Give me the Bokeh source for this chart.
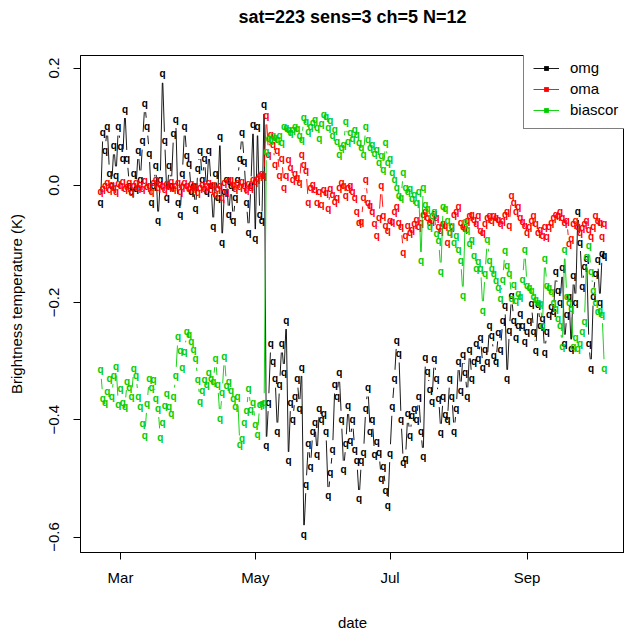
import math
import numpy as np
import pandas as pd
from bokeh.plotting import figure
from bokeh.models import (ColumnDataSource, Range1d, FixedTicker, Legend, LegendItem,
                          CustomJSTickFormatter, Title)
from bokeh.core.properties import value
from bokeh.embed import file_html
from bokeh.resources import INLINE

title_text = "sat=223 sens=3 ch=5 N=12"
x_label = "date"
y_label = "Brightness temperature (K)"
start_date = "2011-02-20"
series_names = ["omg", "oma", "biascor"]
series_colors = ["#000000", "#FF0000", "#00CD00"]
x_tick_dates = ["2011-03-01", "2011-05-01", "2011-07-01", "2011-09-01"]
x_tick_labels = ["Mar", "May", "Jul", "Sep"]
y_ticks = [-0.6, -0.4, -0.2, 0.0, 0.2]

omg = [
    -0.030, 0.090, 0.060, 0.100, 0.020, 0.000, 0.068, 0.017, 0.100, 0.066,
    0.046, 0.130, 0.045, 0.000, -0.010, 0.020, -0.005, 0.060, 0.010, 0.076,
    0.140, 0.100, 0.055, -0.030, 0.000, 0.033, -0.060, 0.010, 0.190, 0.076,
    -0.020, 0.033, 0.000, 0.088, 0.113, -0.030, -0.050, 0.020, 0.100, 0.050,
    0.038, -0.010, 0.000, -0.040, 0.028, 0.060, 0.010, 0.046, -0.010, 0.060,
    0.000, -0.070, 0.020, -0.020, 0.083, -0.097, -0.010, 0.010, -0.050, 0.000,
    -0.060, -0.020, 0.010, 0.046, 0.090, 0.040, -0.030, -0.080, 0.000, 0.103,
    -0.090, 0.100, -0.050, -0.060, 0.137, -0.444, -0.370, -0.270, -0.300, -0.330,
    -0.420, -0.340, -0.270, -0.320, -0.230, -0.470, -0.370, -0.400, -0.360, -0.330,
    -0.380, -0.310, -0.595, -0.510, -0.440, -0.480, -0.420, -0.405, -0.460, -0.380,
    -0.400, -0.390, -0.420, -0.530, -0.490, -0.450, -0.340, -0.360, -0.320, -0.400,
    -0.485, -0.440, -0.375, -0.436, -0.400, -0.450, -0.470, -0.535, -0.470, -0.456,
    -0.380, -0.345, -0.420, -0.400, -0.460, -0.437, -0.456, -0.500, -0.480, -0.520,
    -0.547, -0.457, -0.378, -0.330, -0.264, -0.287, -0.400, -0.473, -0.466, -0.390,
    -0.427, -0.393, -0.380, -0.400, -0.360, -0.420, -0.463, -0.294, -0.317, -0.349,
    -0.368, -0.296, -0.330, -0.363, -0.422, -0.361, -0.391, -0.400, -0.330, -0.360,
    -0.420, -0.380, -0.300, -0.350, -0.288, -0.320, -0.360, -0.280, -0.330, -0.300,
    -0.270, -0.295, -0.260, -0.310, -0.280, -0.300, -0.240, -0.256, -0.290, -0.300,
    -0.251, -0.280, -0.230, -0.205, -0.330, -0.247, -0.188, -0.230, -0.260, -0.240,
    -0.218, -0.240, -0.266, -0.249, -0.230, -0.202, -0.250, -0.281, -0.203, -0.240,
    -0.227, -0.285, -0.250, -0.220, -0.207, -0.215, -0.147, -0.180, -0.200, -0.141,
    -0.270, -0.220, -0.190, -0.278, -0.154, -0.200, -0.044, -0.097, -0.173, -0.139,
    -0.125, -0.270, -0.312, -0.190, -0.150, -0.127, -0.200, -0.117, -0.119,
]

oma = [
    -0.010, -0.005, 0.000, 0.005, -0.008, 0.002, -0.004, -0.010, 0.003, 0.000,
    0.006, -0.006, -0.002, 0.004, -0.012, 0.000, 0.005, -0.003, 0.002, -0.006,
    0.008, -0.002, 0.000, -0.010, 0.004, 0.010, -0.004, 0.002, 0.000, -0.008,
    0.003, -0.002, 0.006, -0.005, 0.000, 0.004, -0.010, -0.002, 0.005, 0.000,
    -0.006, 0.003, -0.004, 0.000, -0.012, -0.003, 0.002, -0.006, 0.000, 0.004,
    -0.008, 0.002, -0.015, -0.005, 0.000, -0.020, 0.005, -0.010, 0.008, 0.010,
    0.002, -0.006, 0.004, -0.002, 0.006, 0.000, -0.008, 0.003, -0.004, 0.010,
    0.006, 0.012, 0.017, 0.020, 0.017, 0.119, 0.053, 0.086, 0.070, 0.036,
    0.060, 0.016, 0.046, -0.003, 0.016, 0.044, 0.030, 0.010, 0.020, 0.013,
    0.005, 0.053, 0.035, 0.026, -0.030, -0.003, 0.002, -0.007, -0.029, -0.010,
    -0.032, -0.007, -0.012, -0.040, -0.005, -0.015, -0.027, -0.020, -0.003, 0.005,
    0.000, -0.018, -0.003, 0.000, -0.010, -0.020, -0.044, -0.063, -0.061, -0.021,
    0.010, -0.029, -0.035, -0.045, -0.065, -0.086, -0.055, 0.000, -0.052, -0.069,
    -0.077, -0.060, -0.061, -0.045, -0.037, -0.063, -0.070, -0.114, -0.086, -0.069,
    -0.080, -0.075, -0.065, -0.058, -0.070, -0.063, -0.050, -0.044, -0.055, -0.063,
    -0.060, -0.048, -0.055, -0.071, -0.077, -0.065, -0.069, -0.097, -0.080, -0.070,
    -0.050, -0.045, -0.037, -0.063, -0.070, -0.074, -0.060, -0.052, -0.050, -0.058,
    -0.066, -0.052, -0.077, -0.080, -0.065, -0.055, -0.052, -0.060, -0.052, -0.055,
    -0.058, -0.065, -0.060, -0.050, -0.045, -0.069, -0.018, -0.030, -0.045, -0.037,
    -0.055, -0.062, -0.069, -0.080, -0.070, -0.060, -0.052, -0.065, -0.080, -0.075,
    -0.086, -0.070, -0.088, -0.070, -0.063, -0.055, -0.050, -0.052, -0.044, -0.055,
    -0.063, -0.060, -0.100, -0.090, -0.065, -0.060, -0.070, -0.080, -0.072, -0.065,
    -0.060, -0.075, -0.088, -0.070, -0.052, -0.060, -0.063, -0.088, -0.065,
]

biascor = [
    -0.315, -0.363, -0.370, -0.351, -0.330, -0.360, -0.324, -0.309, -0.374, -0.347,
    -0.371, -0.377, -0.334, -0.345, -0.360, -0.312, -0.324, -0.361, -0.377, -0.407,
    -0.427, -0.373, -0.329, -0.345, -0.332, -0.364, -0.380, -0.430, -0.405, -0.376,
    -0.356, -0.378, -0.390, -0.360, -0.325, -0.258, -0.281, -0.311, -0.283, -0.250,
    -0.255, -0.266, -0.280, -0.296, -0.332, -0.368, -0.350, -0.332, -0.340, -0.319,
    -0.330, -0.335, -0.295, -0.339, -0.397, -0.353, -0.292, -0.341, -0.335, -0.350,
    -0.363, -0.377, -0.360, -0.442, -0.432, -0.405, -0.385, -0.346, -0.383, -0.370,
    -0.408, -0.425, -0.374, -0.373, -0.370, 0.058, 0.080, 0.078, 0.085, 0.081,
    0.078, 0.085, 0.073, 0.100, 0.098, 0.095, 0.090, 0.095, 0.100, 0.097,
    0.085, 0.078, 0.115, 0.108, 0.092, 0.100, 0.107, 0.112, 0.098, 0.080,
    0.105, 0.120, 0.117, 0.098, 0.110, 0.085, 0.095, 0.075, 0.053, 0.065,
    0.070, 0.108, 0.075, 0.090, 0.080, 0.095, 0.086, 0.073, 0.065, 0.053,
    0.100, 0.078, 0.064, 0.070, 0.055, 0.061, 0.039, 0.050, 0.027, 0.073,
    0.039, 0.045, 0.022, 0.010, -0.003, -0.018, -0.020, 0.022, -0.003, -0.010,
    -0.005, -0.022, -0.015, -0.030, -0.010, -0.129, -0.003, -0.032, -0.040, -0.070,
    -0.052, -0.045, -0.083, -0.095, -0.147, -0.037, -0.039, -0.060, -0.080, -0.069,
    -0.097, -0.085, -0.110, -0.128, -0.188, -0.061, -0.075, -0.100, -0.092, -0.120,
    -0.142, -0.130, -0.142, -0.213, -0.150, -0.093, -0.128, -0.142, -0.150, -0.163,
    -0.175, -0.193, -0.160, -0.112, -0.136, -0.150, -0.193, -0.170, -0.196, -0.185,
    -0.190, -0.160, -0.110, -0.171, -0.175, -0.180, -0.190, -0.195, -0.200, -0.202,
    -0.239, -0.125, -0.171, -0.175, -0.181, -0.200, -0.210, -0.227, -0.240, -0.275,
    -0.110, -0.190, -0.200, -0.210, -0.275, -0.260, -0.278, -0.270, -0.250, -0.232,
    -0.122, -0.103, -0.147, -0.180, -0.200, -0.215, -0.213, -0.220, -0.312,
]

series_values = [omg, oma, biascor]

FONT = "Liberation Sans"
W, H = 624, 633
BL, BR, BT, BB = 80, 0, 55, 78


def to_ms(dates):
    return (pd.to_datetime(dates).values.astype("datetime64[ms]").astype("int64")).astype(float)


xs_all = [to_ms(pd.date_range(start_date, periods=len(v), freq="D")) for v in series_values]
xmin = min(x.min() for x in xs_all)
xmax = max(x.max() for x in xs_all)
ymin = min(min(v) for v in series_values)
ymax = max(max(v) for v in series_values)
xpad = 0.04 * (xmax - xmin)
ypad = 0.04 * (ymax - ymin)
x_range = Range1d(xmin - xpad, xmax + xpad)
y_range = Range1d(ymin - ypad, ymax + ypad)

p = figure(width=W, height=H, x_axis_type="datetime", x_range=x_range, y_range=y_range,
           output_backend="svg", toolbar_location=None,
           min_border_left=BL, min_border_right=BR, min_border_top=BT, min_border_bottom=BB)

p.xgrid.visible = False
p.ygrid.visible = False
p.background_fill_color = "white"
p.border_fill_color = "white"
p.outline_line_color = "#000000"
p.outline_line_width = 1

frame_w = W - BL - BR
frame_h = H - BT - BB

# real bold title (outermost), with an empty spacer title between it and the frame
p.title.text = title_text
p.title.align = "center"
p.title.text_font = FONT
p.title.text_font_size = "18px"
p.title.text_font_style = "bold"
p.title.text_color = "#000000"
p.title.standoff = 0
p.add_layout(Title(text=" ", text_font_size="1px", standoff=26), "above")

tick_ms = [int(t) for t in to_ms(x_tick_dates)]
p.xaxis.ticker = FixedTicker(ticks=tick_ms)
p.xaxis.major_label_overrides = {t: lab for t, lab in zip(tick_ms, x_tick_labels)}
p.yaxis.ticker = FixedTicker(ticks=y_ticks)
p.yaxis.formatter = CustomJSTickFormatter(
    code="var s = Math.abs(tick).toFixed(1); return (tick < -1e-9 ? '\u2212' : '') + s;")
p.yaxis.major_label_orientation = "vertical"

for ax in (p.xaxis, p.yaxis):
    ax.axis_line_color = "#000000"
    ax.major_tick_line_color = "#000000"
    ax.major_tick_out = 7
    ax.major_tick_in = 0
    ax.minor_tick_out = 0
    ax.minor_tick_in = 0
    ax.major_label_text_font = FONT
    ax.major_label_text_font_size = "15px"
    ax.major_label_text_color = "#000000"
    ax.axis_label_text_font = FONT
    ax.axis_label_text_font_size = "15px"
    ax.axis_label_text_font_style = "normal"
    ax.axis_label_text_color = "#000000"

p.xaxis.axis_label = x_label
p.yaxis.axis_label = y_label
p.xaxis.major_label_standoff = 9
p.xaxis.axis_label_standoff = 25
p.yaxis.major_label_standoff = 14
p.yaxis.axis_label_standoff = 22

# R type="b": segments between points, leaving a gap around each point
kx = frame_w / (x_range.end - x_range.start)
ky = frame_h / (y_range.end - y_range.start)
GAP = 9.0


def gapped(xs, ys):
    x0, y0, x1, y1 = [], [], [], []
    for i in range(len(xs) - 1):
        dx = xs[i + 1] - xs[i]
        dy = ys[i + 1] - ys[i]
        L = math.hypot(dx * kx, dy * ky)
        if L <= 0:
            continue
        f = GAP / L
        if f < 0.5:
            x0.append(xs[i] + f * dx)
            y0.append(ys[i] + f * dy)
            x1.append(xs[i + 1] - f * dx)
            y1.append(ys[i + 1] - f * dy)
    return dict(x0=x0, y0=y0, x1=x1, y1=y1)


items = []
for name, color, vals, xs in zip(series_names, series_colors, series_values, xs_all):
    seg_src = ColumnDataSource(gapped(list(xs), list(vals)))
    seg_r = p.segment(x0="x0", y0="y0", x1="x1", y1="y1", source=seg_src,
                      line_color=color, line_width=0.9)
    pt_src = ColumnDataSource(dict(x=list(xs), y=list(vals)))
    p.text(x="x", y="y", text=value("q"), source=pt_src, text_color=color,
           text_font=value(FONT), text_font_size=value("10px"), text_font_style="bold",
           text_align="center", text_baseline="middle")
    # zero-size markers: invisible on the plot, but give the legend its point symbol
    leg_mark = p.scatter(x="x", y="y", source=pt_src, marker="square", size=0,
                         fill_color=color, line_color=None)
    items.append(LegendItem(label=name, renderers=[seg_r, leg_mark]))

# legend box: bottom-left corner given in screen px from the frame's bottom-left
legend = Legend(items=items, location=(443, 423), padding=9, spacing=2,
                glyph_width=26, glyph_height=12, label_height=19, label_standoff=11,
                label_text_font=FONT, label_text_font_size="15px",
                label_text_color="#000000",
                border_line_color="#000000", border_line_width=1,
                background_fill_color="white", background_fill_alpha=1.0)
p.add_layout(legend)

open("out.html", "w").write(file_html(p, INLINE))
